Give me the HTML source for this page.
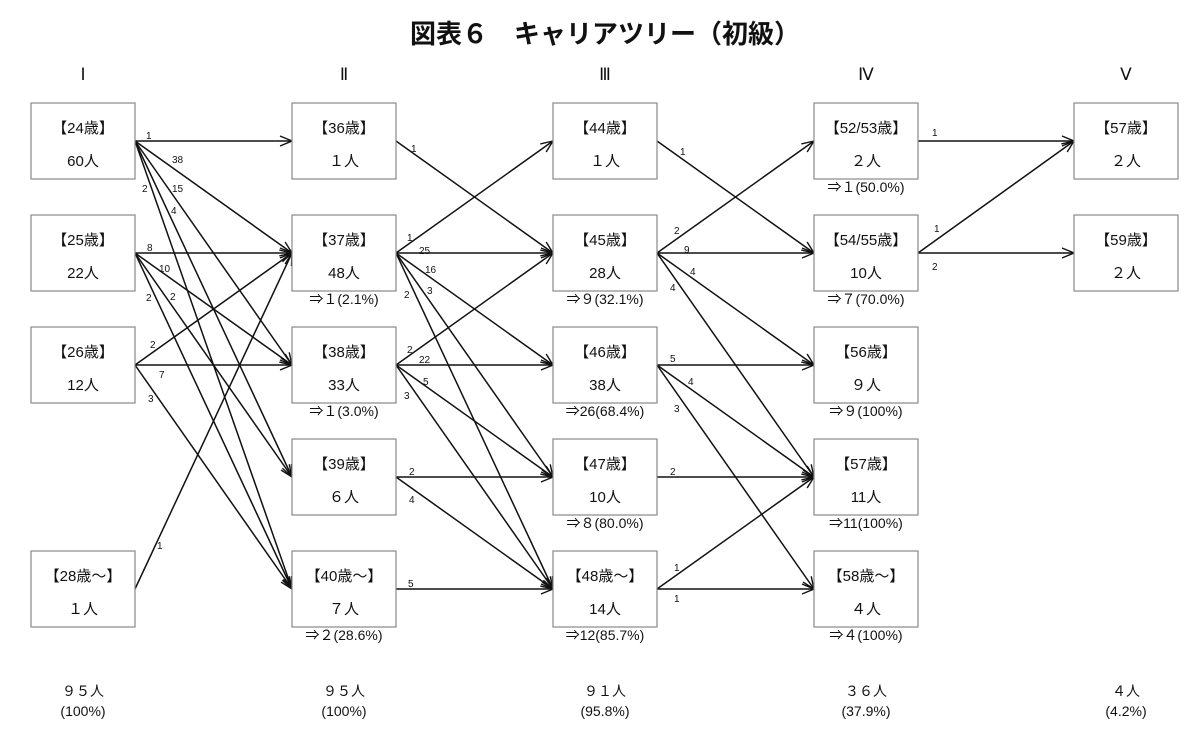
<!DOCTYPE html>
<html><head><meta charset="utf-8"><style>
html,body{margin:0;padding:0;background:#fff;}
svg{display:block;font-family:"Liberation Sans","Noto Sans CJK JP",sans-serif;}
</style></head><body>
<svg width="1200" height="740" viewBox="0 0 1200 740" xmlns="http://www.w3.org/2000/svg">
<defs>
<marker id="a" markerWidth="14" markerHeight="12" refX="13" refY="6" orient="auto" markerUnits="userSpaceOnUse">
<path d="M1,1 L13,6 L1,11" fill="none" stroke="#111" stroke-width="1.4"/>
</marker>
</defs>
<text x="605" y="43" text-anchor="middle" font-size="26" font-weight="bold" fill="#111">図表６　キャリアツリー（初級）</text>
<g font-family="Liberation Serif, serif" font-size="17" text-anchor="middle" fill="#111">
<text x="83" y="80">Ⅰ</text><text x="344" y="80">Ⅱ</text><text x="605" y="80">Ⅲ</text><text x="866" y="80">Ⅳ</text><text x="1126" y="80">Ⅴ</text>
</g>
<g stroke="#111" stroke-width="1.5" marker-end="url(#a)" fill="none">
<line x1="135" y1="141" x2="292" y2="141"/><line x1="135" y1="141" x2="292" y2="253"/><line x1="135" y1="141" x2="292" y2="365"/><line x1="135" y1="141" x2="292" y2="477"/><line x1="135" y1="141" x2="292" y2="589"/>
<line x1="135" y1="253" x2="292" y2="253"/><line x1="135" y1="253" x2="292" y2="365"/><line x1="135" y1="253" x2="292" y2="477"/><line x1="135" y1="253" x2="292" y2="589"/>
<line x1="135" y1="365" x2="292" y2="253"/><line x1="135" y1="365" x2="292" y2="365"/><line x1="135" y1="365" x2="292" y2="589"/>
<line x1="135" y1="589" x2="292" y2="253"/>
<line x1="396" y1="141" x2="553" y2="253"/>
<line x1="396" y1="253" x2="553" y2="141"/><line x1="396" y1="253" x2="553" y2="253"/><line x1="396" y1="253" x2="553" y2="365"/><line x1="396" y1="253" x2="553" y2="477"/><line x1="396" y1="253" x2="553" y2="589"/>
<line x1="396" y1="365" x2="553" y2="253"/><line x1="396" y1="365" x2="553" y2="365"/><line x1="396" y1="365" x2="553" y2="477"/><line x1="396" y1="365" x2="553" y2="589"/>
<line x1="396" y1="477" x2="553" y2="477"/><line x1="396" y1="477" x2="553" y2="589"/>
<line x1="396" y1="589" x2="553" y2="589"/>
<line x1="657" y1="141" x2="814" y2="253"/>
<line x1="657" y1="253" x2="814" y2="141"/><line x1="657" y1="253" x2="814" y2="253"/><line x1="657" y1="253" x2="814" y2="365"/><line x1="657" y1="253" x2="814" y2="477"/>
<line x1="657" y1="365" x2="814" y2="365"/><line x1="657" y1="365" x2="814" y2="477"/><line x1="657" y1="365" x2="814" y2="589"/>
<line x1="657" y1="477" x2="814" y2="477"/>
<line x1="657" y1="589" x2="814" y2="477"/><line x1="657" y1="589" x2="814" y2="589"/>
<line x1="918" y1="141" x2="1074" y2="141"/><line x1="918" y1="253" x2="1074" y2="141"/><line x1="918" y1="253" x2="1074" y2="253"/>
</g>
<g fill="#fff" stroke="#888" stroke-width="1.2">
<rect x="31" y="103" width="104" height="76"/><rect x="31" y="215" width="104" height="76"/><rect x="31" y="327" width="104" height="76"/><rect x="31" y="551" width="104" height="76"/>
<rect x="292" y="103" width="104" height="76"/><rect x="292" y="215" width="104" height="76"/><rect x="292" y="327" width="104" height="76"/><rect x="292" y="439" width="104" height="76"/><rect x="292" y="551" width="104" height="76"/>
<rect x="553" y="103" width="104" height="76"/><rect x="553" y="215" width="104" height="76"/><rect x="553" y="327" width="104" height="76"/><rect x="553" y="439" width="104" height="76"/><rect x="553" y="551" width="104" height="76"/>
<rect x="814" y="103" width="104" height="76"/><rect x="814" y="215" width="104" height="76"/><rect x="814" y="327" width="104" height="76"/><rect x="814" y="439" width="104" height="76"/><rect x="814" y="551" width="104" height="76"/>
<rect x="1074" y="103" width="104" height="76"/><rect x="1074" y="215" width="104" height="76"/>
</g>
<g font-size="15" text-anchor="middle" fill="#111">
<text x="83" y="133">【24歳】</text><text x="83" y="166">60人</text>
<text x="83" y="245">【25歳】</text><text x="83" y="278">22人</text>
<text x="83" y="357">【26歳】</text><text x="83" y="390">12人</text>
<text x="83" y="581">【28歳～】</text><text x="83" y="614">１人</text>
<text x="344" y="133">【36歳】</text><text x="344" y="166">１人</text>
<text x="344" y="245">【37歳】</text><text x="344" y="278">48人</text>
<text x="344" y="357">【38歳】</text><text x="344" y="390">33人</text>
<text x="344" y="469">【39歳】</text><text x="344" y="502">６人</text>
<text x="344" y="581">【40歳～】</text><text x="344" y="614">７人</text>
<text x="605" y="133">【44歳】</text><text x="605" y="166">１人</text>
<text x="605" y="245">【45歳】</text><text x="605" y="278">28人</text>
<text x="605" y="357">【46歳】</text><text x="605" y="390">38人</text>
<text x="605" y="469">【47歳】</text><text x="605" y="502">10人</text>
<text x="605" y="581">【48歳～】</text><text x="605" y="614">14人</text>
<text x="866" y="133">【52/53歳】</text><text x="866" y="166">２人</text>
<text x="866" y="245">【54/55歳】</text><text x="866" y="278">10人</text>
<text x="866" y="357">【56歳】</text><text x="866" y="390">９人</text>
<text x="866" y="469">【57歳】</text><text x="866" y="502">11人</text>
<text x="866" y="581">【58歳～】</text><text x="866" y="614">４人</text>
<text x="1126" y="133">【57歳】</text><text x="1126" y="166">２人</text>
<text x="1126" y="245">【59歳】</text><text x="1126" y="278">２人</text>
</g>
<g font-size="14" text-anchor="middle" fill="#111">
<text x="344" y="304">⇒１(2.1%)</text><text x="344" y="416">⇒１(3.0%)</text><text x="344" y="640">⇒２(28.6%)</text>
<text x="605" y="304">⇒９(32.1%)</text><text x="605" y="416">⇒26(68.4%)</text><text x="605" y="528">⇒８(80.0%)</text><text x="605" y="640">⇒12(85.7%)</text>
<text x="866" y="192">⇒１(50.0%)</text><text x="866" y="304">⇒７(70.0%)</text><text x="866" y="416">⇒９(100%)</text><text x="866" y="528">⇒11(100%)</text><text x="866" y="640">⇒４(100%)</text>
<text x="83" y="696">９５人</text><text x="83" y="716">(100%)</text>
<text x="344" y="696">９５人</text><text x="344" y="716">(100%)</text>
<text x="605" y="696">９１人</text><text x="605" y="716">(95.8%)</text>
<text x="866" y="696">３６人</text><text x="866" y="716">(37.9%)</text>
<text x="1126" y="696">４人</text><text x="1126" y="716">(4.2%)</text>
</g>
<g font-size="10" fill="#111">
<text x="146" y="139">1</text><text x="172" y="163">38</text><text x="142" y="192">2</text><text x="172" y="192">15</text><text x="171" y="214">4</text>
<text x="147" y="251">8</text><text x="159" y="272">10</text><text x="146" y="301">2</text><text x="170" y="300">2</text>
<text x="150" y="348">2</text><text x="159" y="378">7</text><text x="148" y="402">3</text>
<text x="157" y="549">1</text>
<text x="411" y="152">1</text>
<text x="407" y="241">1</text><text x="419" y="254">25</text><text x="425" y="273">16</text><text x="404" y="298">2</text><text x="427" y="294">3</text>
<text x="407" y="353">2</text><text x="419" y="363">22</text><text x="423" y="385">5</text><text x="404" y="399">3</text>
<text x="409" y="475">2</text><text x="409" y="503">4</text>
<text x="408" y="587">5</text>
<text x="680" y="155">1</text>
<text x="674" y="234">2</text><text x="684" y="253">9</text><text x="690" y="275">4</text><text x="670" y="291">4</text>
<text x="670" y="362">5</text><text x="688" y="385">4</text><text x="674" y="412">3</text>
<text x="670" y="475">2</text>
<text x="674" y="571">1</text><text x="674" y="602">1</text>
<text x="932" y="136">1</text><text x="934" y="232">1</text><text x="932" y="270">2</text>
</g>
</svg>
</body></html>
